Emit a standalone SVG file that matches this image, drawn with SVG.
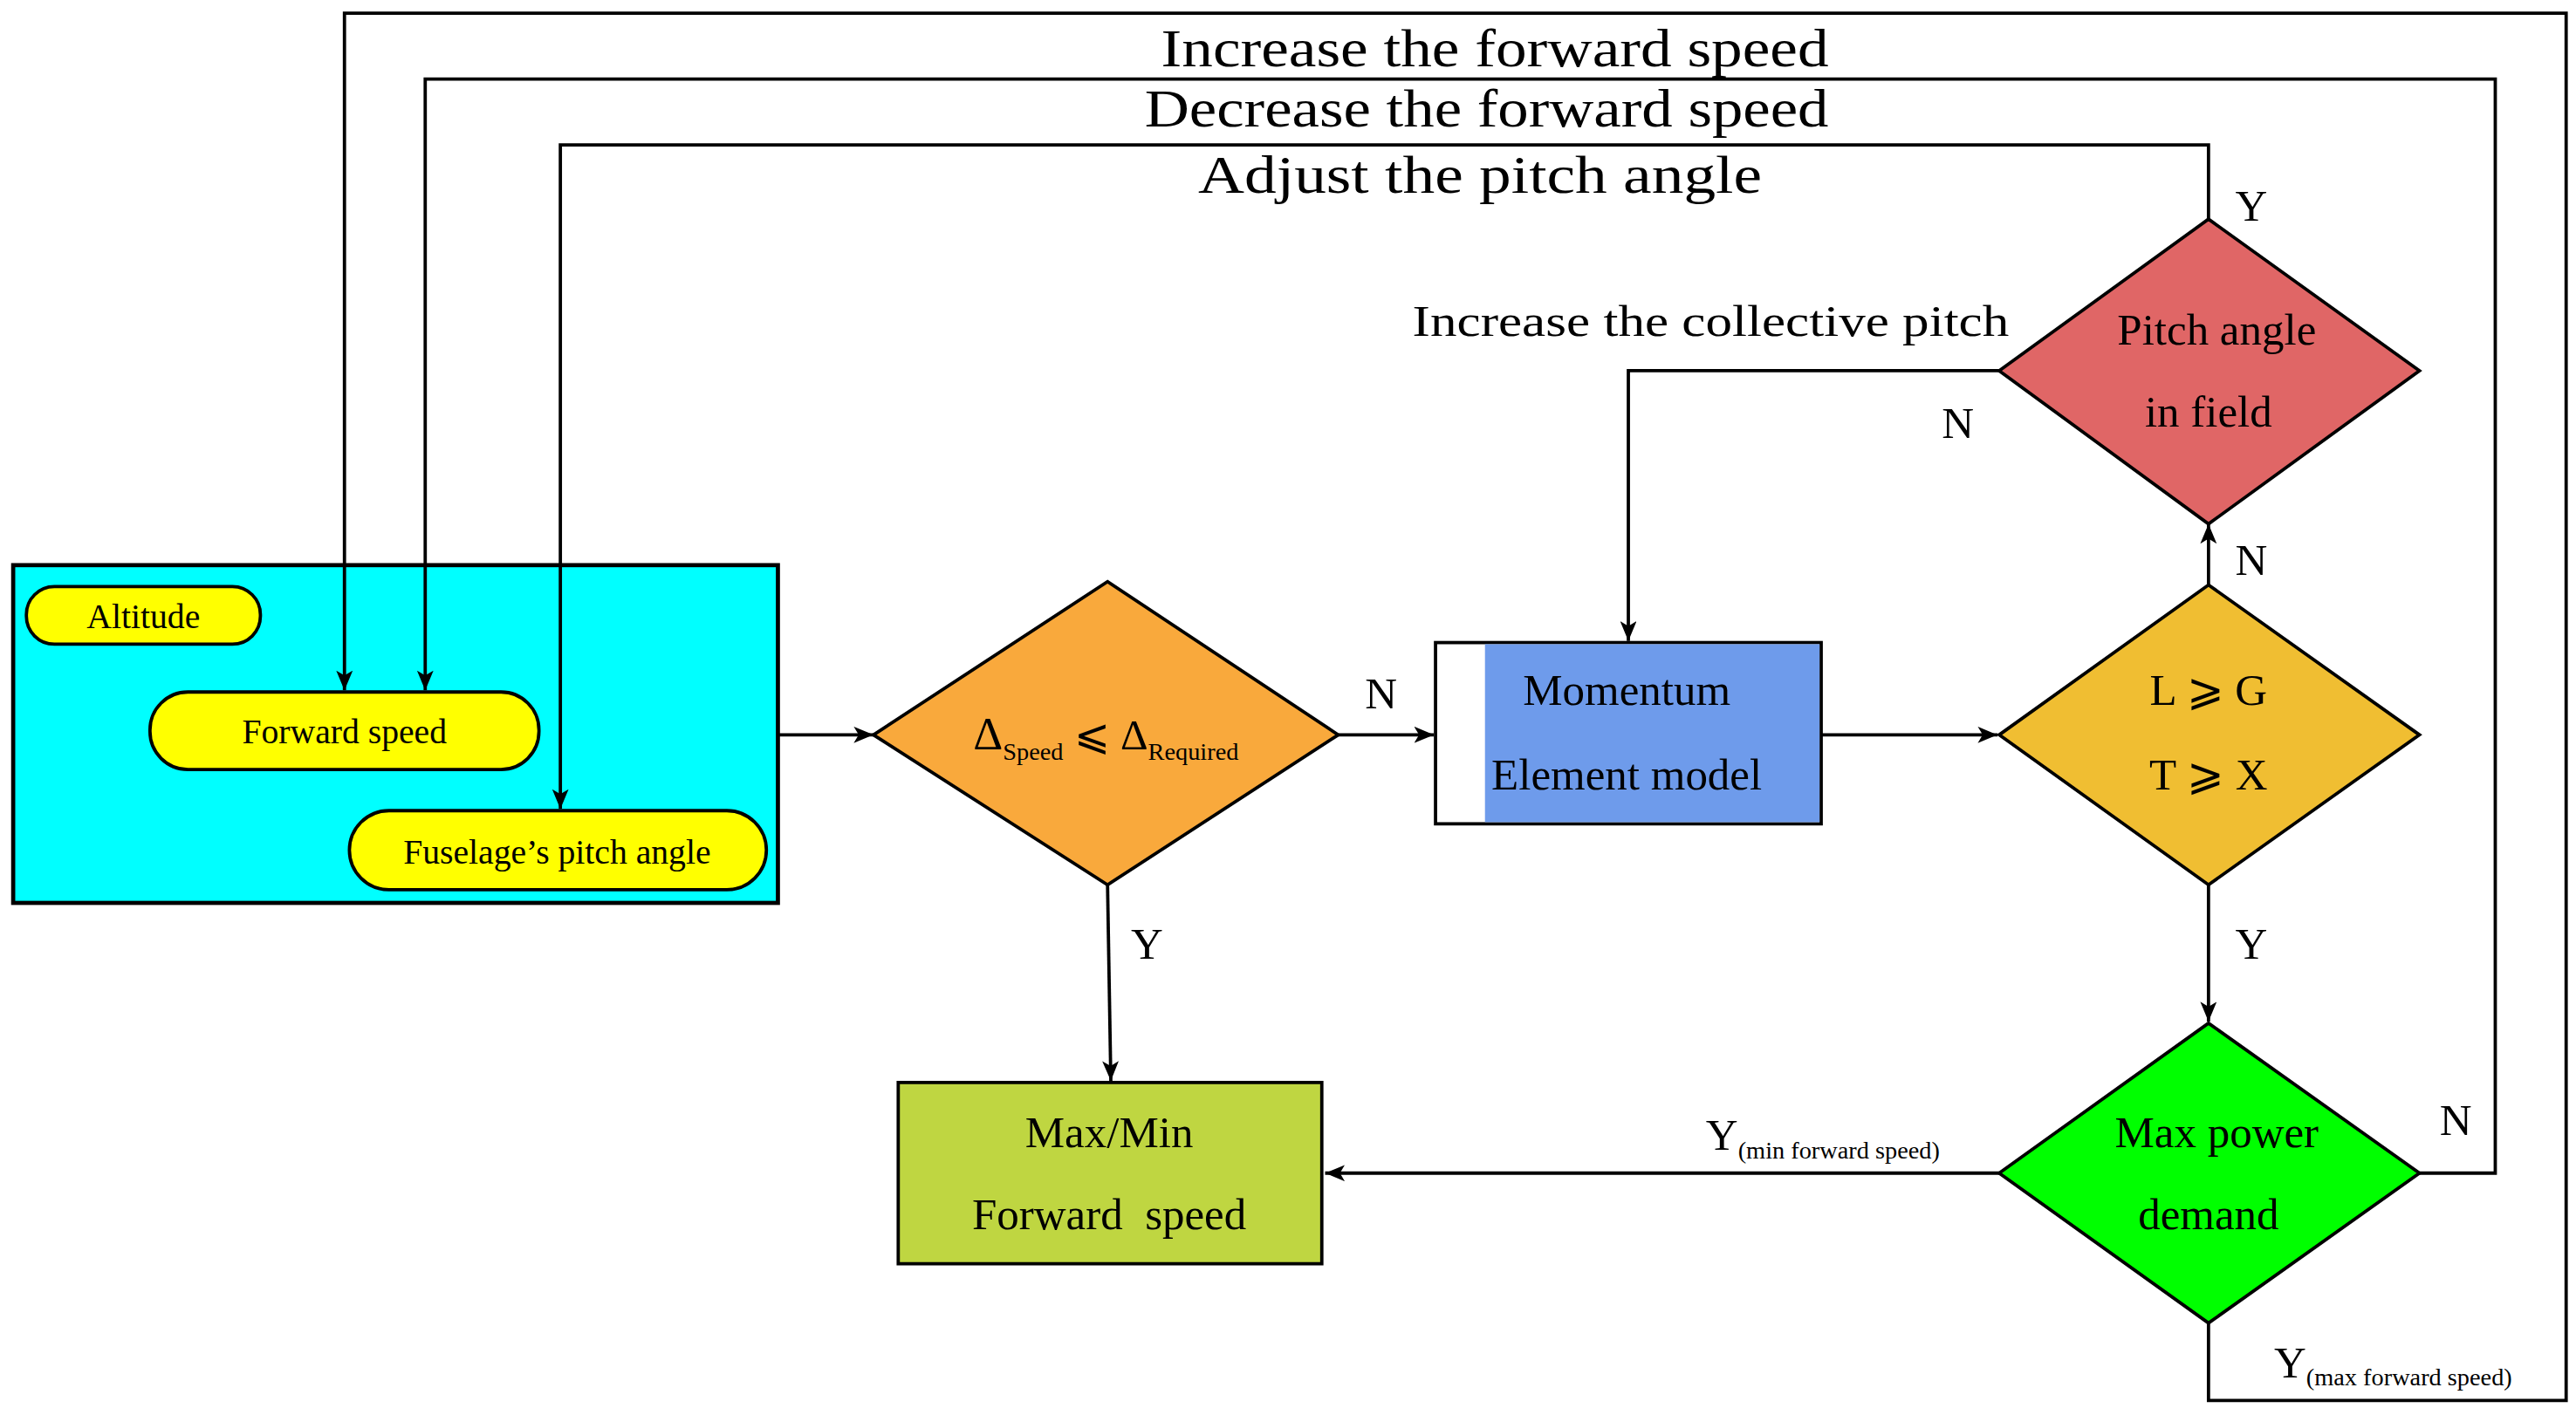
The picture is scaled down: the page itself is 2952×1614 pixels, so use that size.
<svg xmlns="http://www.w3.org/2000/svg" width="2952" height="1614" viewBox="0 0 2952 1614">
<defs>
<style>
text{font-family:"Liberation Serif","DejaVu Serif",serif;fill:#000;text-anchor:middle}
.ln{fill:none;stroke:#000;stroke-width:2}
.nd{stroke:#000;stroke-width:2}
.big{font-size:32px}
.lb{font-size:27px}
.pl{font-size:21px}
.sub{font-size:15px}
</style>
<marker id="ar" viewBox="0 0 12 10" refX="12" refY="5" markerWidth="12" markerHeight="10" markerUnits="userSpaceOnUse" orient="auto">
<path d="M0,0 L12,5 L0,10 L3,5 Z" fill="#000"/>
</marker>
</defs>
<rect width="2952" height="1614" fill="#fff"/>
<g transform="scale(1.8887)">
<g id="inputs">
<rect x="8" y="343" width="464" height="205" fill="#00FFFF" stroke="#000" stroke-width="2.5"/>
</g>
<g id="altitude"><rect class="nd" x="16" y="356" width="142" height="35" rx="17" fill="#FFFF00"/><text class="pl" x="87" y="381">Altitude</text></g>
<g id="forward"><rect class="nd" x="91" y="420" width="236" height="47" rx="23" fill="#FFFF00"/><text class="pl" x="209" y="451">Forward speed</text></g>
<g id="fuselage"><rect class="nd" x="212" y="492" width="253" height="48" rx="24" fill="#FFFF00"/><text class="pl" x="338" y="524">Fuselage’s pitch angle</text></g>
<g id="delta"><polygon class="nd" points="530,446 672,353 812,446 672,537" fill="#F9A93C"/>
<text x="671" y="455" font-size="28">Δ<tspan class="sub" dy="6">Speed</tspan><tspan dy="-6" font-size="26"> ⩽ Δ</tspan><tspan class="sub" dy="6">Required</tspan></text></g>
<g id="momentum"><rect class="nd" x="871" y="390" width="234" height="110" fill="#fff"/><rect x="901" y="391" width="203" height="108" fill="#6E9BEB"/>
<text class="lb" x="987" y="428">Momentum</text><text class="lb" x="987" y="479">Element model</text></g>
<g id="lg"><polygon class="nd" points="1213,446 1340,355 1468,446 1340,537" fill="#F0BE32"/>
<text class="lb" x="1340" y="428">L ⩾ G</text><text class="lb" x="1340" y="479">T ⩾ X</text></g>
<g id="pitch"><polygon class="nd" points="1213,225 1340,133 1468,225 1340,318" fill="#E06666"/>
<text class="lb" x="1345" y="209">Pitch angle</text><text class="lb" x="1340" y="259">in field</text></g>
<g id="power"><polygon class="nd" points="1213,712 1340,621 1468,712 1340,803" fill="#00FF00"/>
<text class="lb" x="1345" y="696">Max power</text><text class="lb" x="1340" y="746">demand</text></g>
<g id="maxmin"><rect class="nd" x="545" y="657" width="257" height="110" fill="#BFD641"/>
<text class="lb" x="673" y="696">Max/Min</text><text class="lb" x="673" y="746" xml:space="preserve">Forward  speed</text></g>
<g id="connectors">
<path class="ln" d="M472,446 H530" marker-end="url(#ar)"/>
<path class="ln" d="M812,446 H870" marker-end="url(#ar)"/>
<path class="ln" d="M1105,446 H1212" marker-end="url(#ar)"/>
<path class="ln" d="M1340,355 V318" marker-end="url(#ar)"/>
<path class="ln" d="M1213,225 H988 V389" marker-end="url(#ar)"/>
<path class="ln" d="M1340,133 V88 H340 V491" marker-end="url(#ar)"/>
<path class="ln" d="M1340,537 V620" marker-end="url(#ar)"/>
<path class="ln" d="M1468,712 H1514 V48 H258 V419" marker-end="url(#ar)"/>
<path class="ln" d="M1340,803 V850 H1557 V8 H209 V419" marker-end="url(#ar)"/>
<path class="ln" d="M1213,712 H804" marker-end="url(#ar)"/>
<path class="ln" d="M672,537 L674,656" marker-end="url(#ar)"/>
</g>
<g id="labels">
<text class="big" x="907" y="40" textLength="405" lengthAdjust="spacingAndGlyphs">Increase the forward speed</text>
<text class="big" x="902" y="77" textLength="415" lengthAdjust="spacingAndGlyphs">Decrease the forward speed</text>
<text class="big" x="898" y="117" textLength="342" lengthAdjust="spacingAndGlyphs">Adjust the pitch angle</text>
<text class="lb" x="1038" y="204" textLength="362" lengthAdjust="spacingAndGlyphs">Increase the collective pitch</text>
<text class="lb" x="1366" y="134">Y</text>
<text class="lb" x="1188" y="266">N</text>
<text class="lb" x="1366" y="349">N</text>
<text class="lb" x="838" y="430">N</text>
<text class="lb" x="696" y="582">Y</text>
<text class="lb" x="1366" y="582">Y</text>
<text class="lb" x="1490" y="689">N</text>
<text class="lb" x="1106" y="698">Y<tspan class="sub" dy="5">(min forward speed)</tspan></text>
<text class="lb" x="1452" y="836">Y<tspan class="sub" dy="5">(max forward speed)</tspan></text>
</g>
</g>
</svg>
